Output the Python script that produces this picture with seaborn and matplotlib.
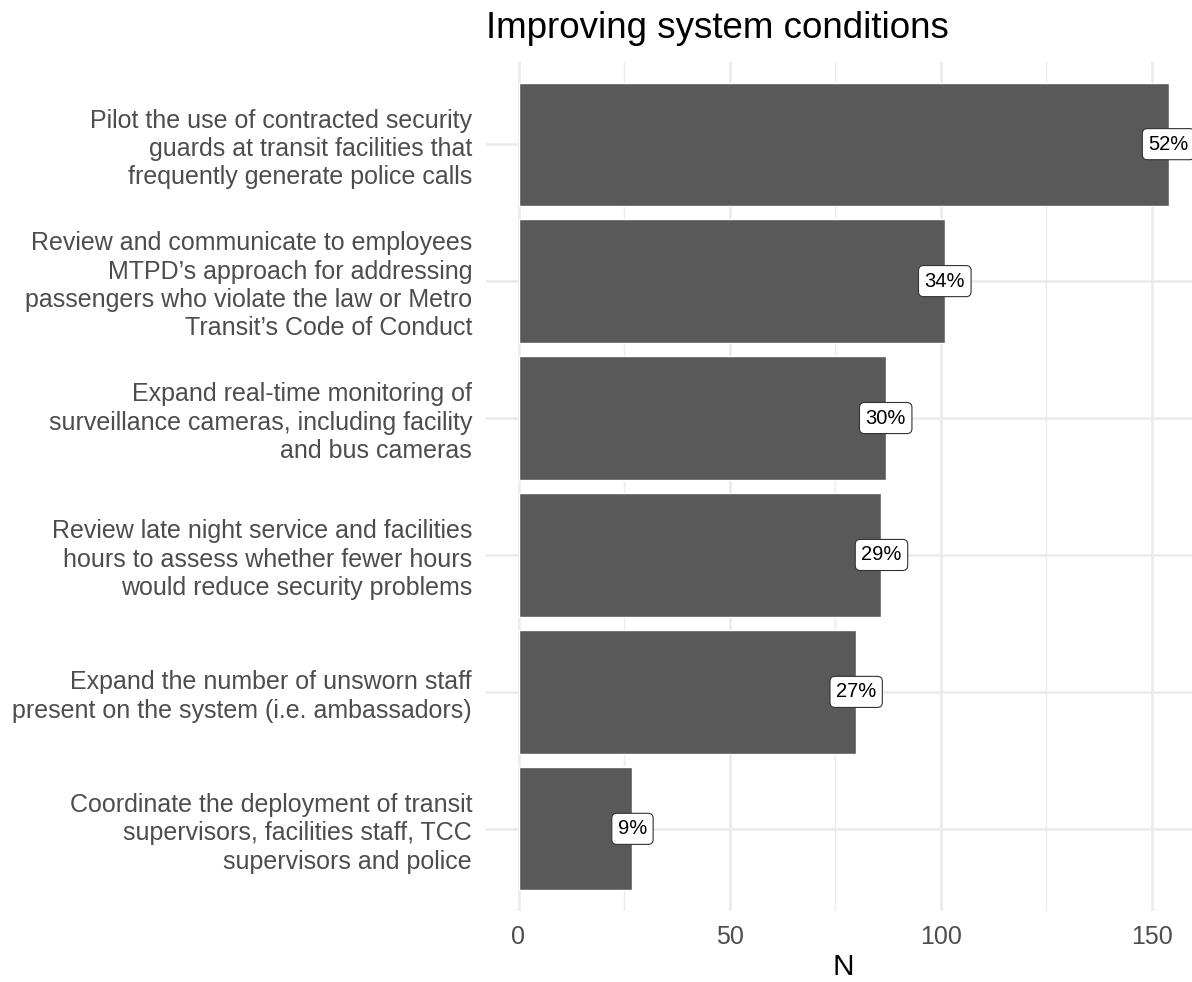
import matplotlib
matplotlib.use("Agg")
import matplotlib.pyplot as plt
import seaborn as sns
import pandas as pd

categories = [
    "Pilot the use of contracted security\nguards at transit facilities that\nfrequently generate police calls",
    "Review and communicate to employees\nMTPD\u2019s approach for addressing\npassengers who violate the law or Metro\nTransit\u2019s Code of Conduct",
    "Expand real-time monitoring of\nsurveillance cameras, including facility\nand bus cameras",
    "Review late night service and facilities\nhours to assess whether fewer hours\nwould reduce security problems",
    "Expand the number of unsworn staff\npresent on the system (i.e. ambassadors)",
    "Coordinate the deployment of transit\nsupervisors, facilities staff, TCC\nsupervisors and police",
]
counts = [154, 101, 87, 86, 80, 27]
percents = [52, 34, 30, 29, 27, 9]
x_ticks = [0, 50, 100, 150]
x_minor = [25, 75, 125]

df = pd.DataFrame({"category": categories, "N": counts, "pct": percents})

sns.set_theme(style="white")
plt.rcParams["font.family"] = ["Liberation Sans", "DejaVu Sans"]

fig = plt.figure(figsize=(11.92, 9.82), dpi=100)
ax = fig.add_axes([486 / 1192, 1 - 911 / 982, (1201 - 486) / 1192, (911 - 62) / 982])

sns.barplot(data=df, x="N", y="category", orient="h", color="#595959",
            saturation=1, width=0.9, ax=ax, zorder=2)

for i, (n, p) in enumerate(zip(df["N"], df["pct"])):
    ax.text(n, i, f"{p}%", ha="center", va="center", fontsize=14.5, color="black", zorder=5,
            bbox=dict(boxstyle="round,pad=0.3,rounding_size=0.25", fc="white", ec="#333333", lw=0.8))

mx = max(counts)
ax.set_xlim(-0.05 * mx, 1.05 * mx)
ax.set_ylim(len(categories) - 1 + 0.6, -0.6)

ax.set_xticks(x_ticks)
ax.set_xticks(x_minor, minor=True)
ax.grid(True, which="major", axis="both", color="#EBEBEB", lw=1.9, zorder=0)
ax.grid(True, which="minor", axis="x", color="#EBEBEB", lw=1.0, zorder=0)
ax.set_axisbelow(True)
for s in ax.spines.values():
    s.set_visible(False)

ax.tick_params(axis="both", which="both", length=0)
ax.tick_params(axis="x", labelsize=18, labelcolor="#4D4D4D", pad=10)
ax.tick_params(axis="y", labelsize=18, labelcolor="#4D4D4D", pad=10)
for lbl in ax.get_yticklabels():
    lbl.set_linespacing(1.22)

ax.set_xlabel("N", fontsize=21.5, color="black", labelpad=3)
ax.set_ylabel("")
ax.set_title("Improving system conditions", loc="left", fontsize=26.5, color="black", pad=17)

fig.savefig("out.png", dpi=100)
